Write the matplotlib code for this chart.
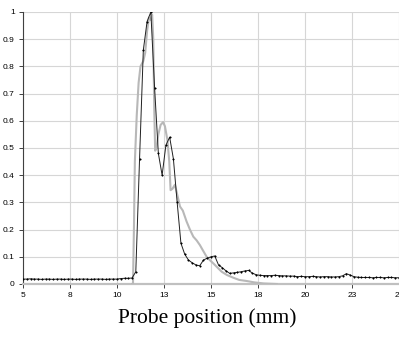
import matplotlib
matplotlib.use("Agg")
import matplotlib.pyplot as plt
import numpy as np

# Black (measured) series: probe position 5..25 mm, step 0.2 mm
black_x = [round(5.0 + 0.2 * i, 1) for i in range(101)]
black_y = [
    0.018, 0.018, 0.019, 0.018, 0.018, 0.017, 0.018, 0.018, 0.017, 0.018,  # 5.0-6.8
    0.018, 0.017, 0.018, 0.018, 0.017, 0.018, 0.018, 0.018, 0.017, 0.018,  # 7.0-8.8
    0.018, 0.018, 0.017, 0.018, 0.018, 0.018, 0.020, 0.021, 0.021, 0.022,  # 9.0-10.8
    0.045, 0.46, 0.86, 0.965, 1.0, 0.72, 0.48, 0.40, 0.51, 0.54,          # 11.0-12.8
    0.46, 0.30, 0.15, 0.11, 0.088, 0.078, 0.070, 0.067, 0.088, 0.095,     # 13.0-14.8
    0.100, 0.103, 0.070, 0.060, 0.048, 0.039, 0.041, 0.043, 0.045, 0.048, # 15.0-16.8
    0.050, 0.040, 0.034, 0.032, 0.031, 0.031, 0.031, 0.032, 0.031, 0.030, # 17.0-18.8
    0.030, 0.029, 0.029, 0.027, 0.028, 0.027, 0.027, 0.028, 0.027, 0.026, # 19.0-20.8
    0.027, 0.027, 0.026, 0.026, 0.027, 0.030, 0.038, 0.033, 0.027, 0.025, # 21.0-22.8
    0.024, 0.024, 0.024, 0.023, 0.024, 0.024, 0.023, 0.024, 0.024, 0.023, # 23.0-24.8
    0.023,                                                                 # 25.0
]

# Grey (simulated) series
gray_x = [10.8, 10.85, 10.9, 10.95, 11.05, 11.15, 11.25, 11.4, 11.5, 11.6,
          11.7, 11.8, 11.87, 11.93, 11.98, 12.03, 12.1, 12.2, 12.32, 12.45,
          12.55, 12.68, 12.78, 12.85, 12.95, 13.08, 13.2, 13.35, 13.5, 13.7,
          13.88, 14.06, 14.24, 14.41, 14.6, 14.77, 14.95, 15.12, 15.35, 15.57,
          15.85, 16.19, 16.5, 16.9, 17.3, 17.8, 18.5]
gray_y = [0.0, 0.0, 0.2, 0.45, 0.62, 0.74, 0.80, 0.82, 0.85, 0.93,
          0.98, 0.97, 0.99, 0.90, 0.65, 0.49, 0.50, 0.55, 0.585, 0.595,
          0.58, 0.53, 0.45, 0.345, 0.35, 0.365, 0.33, 0.285, 0.27, 0.23,
          0.20, 0.174, 0.16, 0.143, 0.12, 0.10, 0.087, 0.076, 0.06, 0.045,
          0.033, 0.023, 0.015, 0.011, 0.006, 0.002, 0.0]

xticks = [5, 7.5, 10, 12.5, 15, 17.5, 20, 22.5, 25]
xtick_labels = ["5", "8", "10", "13", "15", "18", "20", "23", "25"]
yticks = [0, 0.1, 0.2, 0.3, 0.4, 0.5, 0.6, 0.7, 0.8, 0.9, 1]
ytick_labels = ["0", "0.1", "0.2", "0.3", "0.4", "0.5", "0.6", "0.7", "0.8", "0.9", "1"]

W, H = 399, 338
fig = plt.figure(figsize=(W / 100, H / 100), dpi=100)
ax = fig.add_axes([23 / W, (H - 284) / H, 376 / W, 272 / H])

ax.plot(gray_x, gray_y, color="#b8b8b8", lw=1.5, zorder=3, solid_joinstyle="round")
ax.plot(black_x, black_y, color="#202020", lw=0.7, marker="o", ms=1.1,
        mfc="black", mec="black", mew=0.3, zorder=4)

ax.set_xlim(5, 25)
ax.set_ylim(0, 1)
ax.set_xticks(xticks)
ax.set_xticklabels(xtick_labels)
ax.set_yticks(yticks)
ax.set_yticklabels(ytick_labels)

ax.grid(True, color="#d6d6d6", lw=0.8)
ax.set_axisbelow(True)
for s in ["top", "right"]:
    ax.spines[s].set_visible(False)
ax.spines["left"].set_color("#404040")
ax.spines["left"].set_linewidth(0.8)
ax.spines["bottom"].set_color("#c0c0c0")
ax.spines["bottom"].set_linewidth(1.6)

ax.tick_params(axis="both", labelsize=6, length=3, width=0.7, color="#404040", pad=3)
for lab in ax.get_xticklabels() + ax.get_yticklabels():
    lab.set_fontfamily("Liberation Sans")

fig.text(207 / W, 1 - 318 / H, "Probe position (mm)", ha="center", va="center",
         fontsize=15.5, family="Liberation Serif")

fig.savefig("out.png", dpi=100)
